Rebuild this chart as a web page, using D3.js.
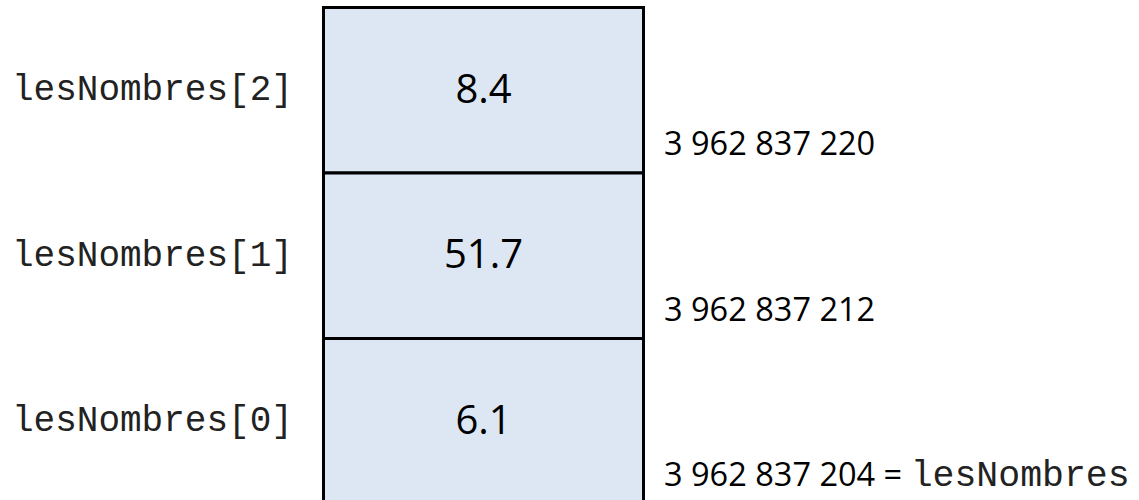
<!DOCTYPE html>
<html>
<head>
<meta charset="utf-8">
<script src="https://cdn.jsdelivr.net/npm/d3@7"></script>
<style>
  html, body { margin: 0; padding: 0; background: #fff; }
  svg { display: block; }
</style>
</head>
<body>
<svg id="chart" width="1139" height="500"></svg>
<script>
const indices = [2, 1, 0];
const labels = ["lesNombres[2]", "lesNombres[1]", "lesNombres[0]"];
const values = [8.4, 51.7, 6.1];
const addresses = [3962837220, 3962837212, 3962837204];
const baseName = "lesNombres";

const W = 1139, H = 500;
const svg = d3.select("#chart");

const y = d3.scaleBand().domain(indices).range([7.5, 504]).padding(0);
const x = d3.scaleLinear().domain([0, 1]).range([323.5, 643.5]);

const fmt = d3.formatLocale({ decimal: ".", thousands: " ", grouping: [3], currency: ["", ""] }).format(",d");

const rows = svg.selectAll("g.row").data(indices).join("g").attr("class", "row");

rows.append("rect")
  .attr("x", x(0))
  .attr("y", d => y(d))
  .attr("width", x(1) - x(0))
  .attr("height", y.bandwidth())
  .attr("fill", "#dde7f4")
  .attr("stroke", "#000")
  .attr("stroke-width", 3);

rows.append("text")
  .attr("x", 12)
  .attr("y", d => y(d) + 92.5)
  .attr("font-family", "'Liberation Mono', 'Courier New', monospace")
  .attr("font-size", 36)
  .attr("fill", "#222")
  .text((d, i) => labels[i]);

rows.append("text")
  .attr("x", (x(0) + x(1)) / 2)
  .attr("y", d => y(d) + 95)
  .attr("text-anchor", "middle")
  .attr("font-family", "'Open Sans', sans-serif")
  .attr("font-size", 40)
  .attr("fill", "#000")
  .text((d, i) => values[i]);

rows.append("text")
  .attr("x", 664)
  .attr("y", d => y(d) + y.bandwidth() - 18)
  .attr("font-family", "'Open Sans', sans-serif")
  .attr("font-size", 32.5)
  .attr("fill", "#000")
  .each(function(d, i) {
    const t = d3.select(this);
    t.append("tspan").text(fmt(addresses[i]));
    if (i === addresses.length - 1) {
      t.append("tspan").text(" = ");
      t.append("tspan")
        .attr("font-family", "'Liberation Mono', 'Courier New', monospace")
        .attr("font-size", 36.5)
        .attr("fill", "#222")
        .text(baseName);
    }
  });
</script>
</body>
</html>
